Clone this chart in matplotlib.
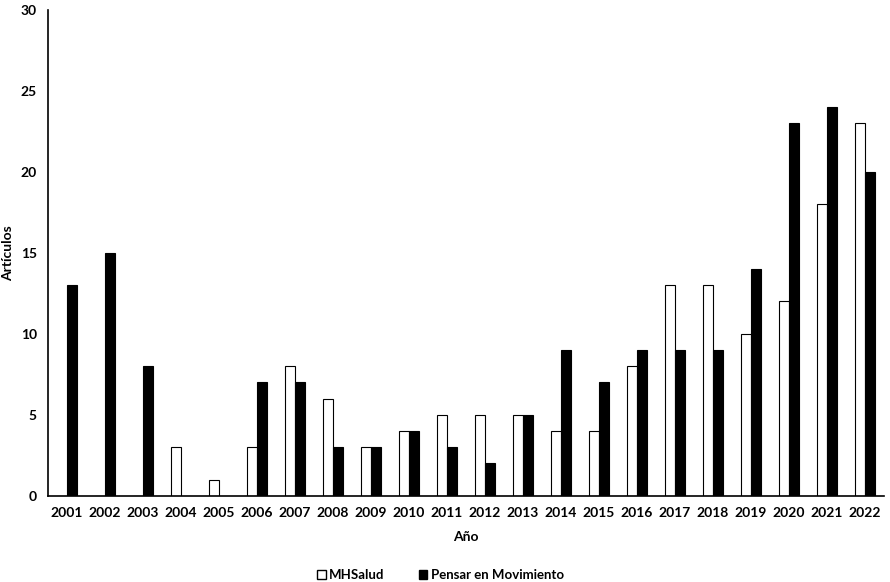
import numpy as np
import matplotlib.pyplot as plt
from matplotlib.patches import Patch

# datos
anios = list(range(2001, 2023))
mhsalud = [0, 0, 0, 3, 1, 3, 8, 6, 3, 4, 5, 5, 5, 4, 4, 8, 13, 13, 10, 12, 18, 23]
pensar = [13, 15, 8, 0, 0, 7, 7, 3, 3, 4, 3, 2, 5, 9, 7, 9, 9, 9, 14, 23, 24, 20]

plt.rcParams['font.family'] = ['Lato', 'DejaVu Sans']
plt.rcParams['font.weight'] = 'bold'


def main():
    fig = plt.figure(figsize=(8.9, 5.82), dpi=100)
    ax = fig.add_axes([0.054, 0.148, 0.939, 0.835])

    x = np.arange(len(anios))
    w = 0.26
    ax.bar(x - w / 2, mhsalud, w, color='white', edgecolor='black', linewidth=0.8)
    ax.bar(x + w / 2, pensar, w, color='black', edgecolor='black', linewidth=0.8)

    ax.set_xlim(-0.5, len(anios) - 0.5)
    ax.set_ylim(0, 30)
    ax.set_yticks(range(0, 31, 5))
    ax.set_xticks(x)
    ax.set_xticklabels([str(a) for a in anios])
    ax.tick_params(axis='x', length=0, labelsize=10, pad=8)
    ax.tick_params(axis='y', length=0, labelsize=10, pad=8)
    for lab in ax.get_xticklabels() + ax.get_yticklabels():
        lab.set_fontweight('bold')

    ax.spines['top'].set_visible(False)
    ax.spines['right'].set_visible(False)
    ax.spines['left'].set_linewidth(1.2)
    ax.spines['bottom'].set_linewidth(1.2)

    ax.set_xlabel("Año", fontsize=10, fontweight='bold', labelpad=9)
    ax.set_ylabel("Artículos", fontsize=10, fontweight='bold')
    ax.yaxis.set_label_coords(-0.041, 0.5)

    handles = [Patch(facecolor='white', edgecolor='black', label='MHSalud'),
               Patch(facecolor='black', edgecolor='black', label='Pensar en Movimiento')]
    fig.legend(handles=handles, loc='center', bbox_to_anchor=(0.495, 0.012),
               ncol=2, frameon=False, handlelength=0.65,
               handleheight=0.65, handletextpad=0.25, columnspacing=2.6,
               prop={'weight': 'bold', 'size': 9.5})

    fig.savefig("out.png", dpi=100)


if __name__ == "__main__":
    main()
